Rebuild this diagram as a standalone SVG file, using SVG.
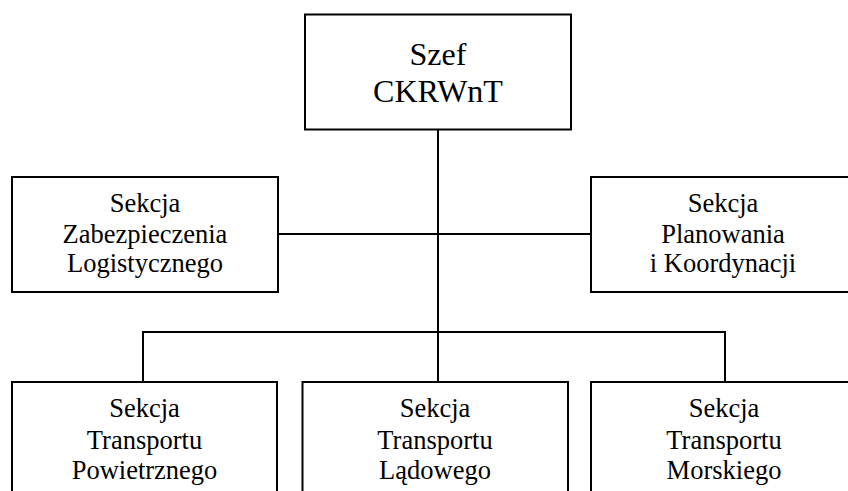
<svg xmlns="http://www.w3.org/2000/svg" width="848" height="491" viewBox="0 0 848 491">
  <style>
    .box { fill: #ffffff; stroke: #000000; stroke-width: 2; }
    .wire { fill: none; stroke: #000000; stroke-width: 2; }
    text { font-family: "Liberation Serif", "Times New Roman", "DejaVu Serif", serif; fill: #000000; text-anchor: middle; }
    .head { font-size: 32px; }
    .unit { font-size: 26.5px; }
  </style>
  <rect width="848" height="491" fill="#ffffff"/>

  <!-- connectors: trunk, middle branch, lower bus with drops -->
  <g id="connectors">
    <path class="wire" d="M438 129 V332"/>
    <path class="wire" d="M278 234 H591"/>
    <path class="wire" d="M143 382 V332 H725 V382"/>
    <path class="wire" d="M438 332 V382"/>
  </g>

  <g id="szef">
    <rect class="box" x="305" y="14.5" width="266" height="115"/>
    <text class="head" x="438" y="65">Szef</text>
    <text class="head" x="438" y="101.7">CKRWnT</text>
  </g>

  <g id="sekcja-zabezpieczenia">
    <rect class="box" x="12" y="177" width="266" height="115"/>
    <text class="unit" x="145" y="211.7">Sekcja</text>
    <text class="unit" x="145" y="243">Zabezpieczenia</text>
    <text class="unit" x="145" y="272.3">Logistycznego</text>
  </g>

  <g id="sekcja-planowania">
    <rect class="box" x="591" y="177" width="266" height="115"/>
    <text class="unit" x="723" y="211.7">Sekcja</text>
    <text class="unit" x="723" y="243">Planowania</text>
    <text class="unit" x="723" y="272.3">i Koordynacji</text>
  </g>

  <g id="sekcja-powietrznego">
    <rect class="box" x="12" y="382" width="265" height="115"/>
    <text class="unit" x="144.5" y="417">Sekcja</text>
    <text class="unit" x="144.5" y="448.5">Transportu</text>
    <text class="unit" x="144.5" y="478.5">Powietrznego</text>
  </g>

  <g id="sekcja-ladowego">
    <rect class="box" x="302.5" y="382" width="265.5" height="115"/>
    <text class="unit" x="435" y="417">Sekcja</text>
    <text class="unit" x="435" y="448.5">Transportu</text>
    <text class="unit" x="435" y="478.5">Lądowego</text>
  </g>

  <g id="sekcja-morskiego">
    <rect class="box" x="591" y="382" width="266" height="115"/>
    <text class="unit" x="724" y="417">Sekcja</text>
    <text class="unit" x="724" y="448.5">Transportu</text>
    <text class="unit" x="724" y="478.5">Morskiego</text>
  </g>
</svg>
